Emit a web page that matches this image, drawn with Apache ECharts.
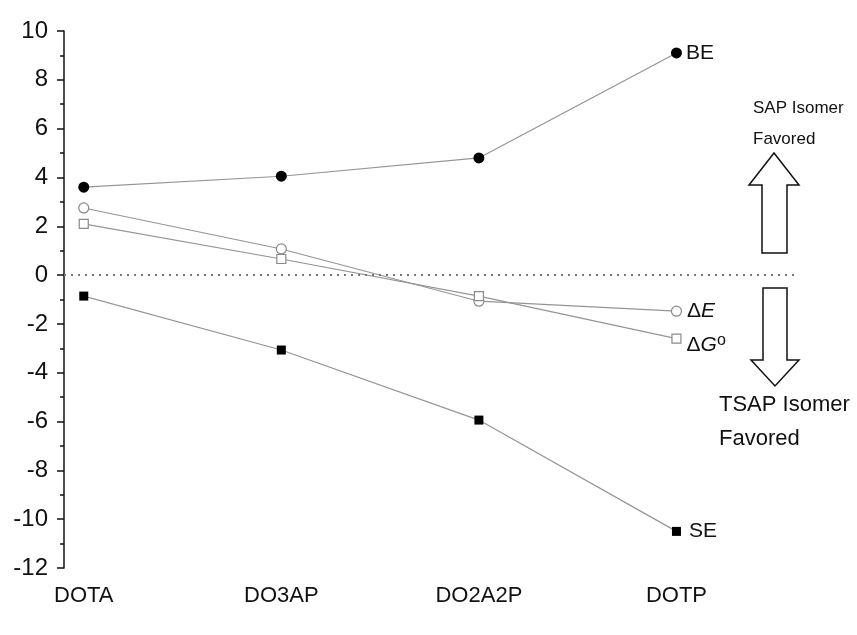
<!DOCTYPE html>
<html>
<head>
<meta charset="utf-8">
<script src="https://cdn.jsdelivr.net/npm/echarts@6/dist/echarts.min.js"></script>
<style>html,body{margin:0;padding:0;background:#fff}#c{width:857px;height:635px}</style>
</head>
<body>
<div id="c"></div>
<script>
var categories = ['DOTA', 'DO3AP', 'DO2A2P', 'DOTP'];
var BE = [3.6, 4.05, 4.8, 9.1];
var dE = [2.75, 1.07, -1.07, -1.48];
var dG = [2.1, 0.66, -0.86, -2.6];
var SE = [-0.86, -3.07, -5.94, -10.5];
var yTicks = {min: -12, max: 10, interval: 2};

var FONT = "'Liberation Sans', Arial, sans-serif";
var chart = echarts.init(document.getElementById('c'), null, {renderer: 'canvas'});

function mk(values, lastLabel) {
  return values.map(function (v, i) {
    var item = {value: [i + 1, v]};
    if (i === values.length - 1 && lastLabel) item.label = lastLabel;
    return item;
  });
}
var lineStyle = {color: '#959595', width: 1.2};

chart.setOption({
  animation: false,
  backgroundColor: '#fff',
  grid: {left: 64, right: 62, top: 31, bottom: 67},
  xAxis: {
    type: 'value', min: 0.9, max: 4.6,
    axisLine: {show: false}, axisTick: {show: false}, splitLine: {show: false},
    axisLabel: {
      customValues: [1, 2, 3, 4],
      formatter: function (v) { return categories[Math.round(v) - 1] || ''; },
      fontSize: 22, color: '#111', fontFamily: FONT, margin: 17
    }
  },
  yAxis: {
    type: 'value', min: yTicks.min, max: yTicks.max, interval: yTicks.interval,
    axisLine: {show: true, lineStyle: {color: '#111', width: 1.5}},
    axisTick: {show: true, length: 7, lineStyle: {color: '#111', width: 1.5}},
    minorTick: {show: true, splitNumber: 2, length: 4, lineStyle: {color: '#111', width: 1.5}},
    splitLine: {show: false},
    axisLabel: {fontSize: 24, color: '#111', fontFamily: FONT, margin: 16}
  },
  series: [
    {
      name: 'BE', type: 'line', data: mk(BE, {show: true, position: 'right', distance: 4, formatter: 'BE', fontSize: 21, color: '#111', fontFamily: FONT}),
      symbol: 'circle', symbolSize: 11, itemStyle: {color: '#000'}, lineStyle: lineStyle,
      markLine: {silent: true, symbol: 'none', label: {show: false},
        lineStyle: {color: '#777', type: [2, 5], width: 2}, data: [{yAxis: 0}]}
    },
    {
      name: 'dE', type: 'line',
      data: mk(dE, {show: true, position: 'right', distance: 5, fontFamily: FONT,
        formatter: '{d|Δ}{e|E}', rich: {d: {fontSize: 21, color: '#111', fontFamily: FONT}, e: {fontSize: 21, fontStyle: 'italic', color: '#111', fontFamily: FONT}}}),
      symbol: 'circle', symbolSize: 10, itemStyle: {color: '#fff', borderColor: '#8a8a8a', borderWidth: 1.2},
      lineStyle: lineStyle
    },
    {
      name: 'dG', type: 'line',
      data: mk(dG, {show: true, position: 'right', distance: 5, offset: [0, 7], fontFamily: FONT,
        formatter: '{d|Δ}{g|G}{o|o}', rich: {d: {fontSize: 21, color: '#111', fontFamily: FONT}, g: {fontSize: 21, fontStyle: 'italic', color: '#111', fontFamily: FONT}, o: {fontSize: 16, color: '#111', fontFamily: FONT, verticalAlign: 'top', padding: [0, 0, 10, 0]}}}),
      symbol: 'rect', symbolSize: 9, itemStyle: {color: '#fff', borderColor: '#8a8a8a', borderWidth: 1.2},
      lineStyle: lineStyle
    },
    {
      name: 'SE', type: 'line', data: mk(SE, {show: true, position: 'right', distance: 8, formatter: 'SE', fontSize: 21, color: '#111', fontFamily: FONT}),
      symbol: 'rect', symbolSize: 9, itemStyle: {color: '#000'}, lineStyle: lineStyle
    }
  ],
  graphic: [
    {type: 'polygon', shape: {points: [[774, 153], [799, 185], [787, 185], [787, 253], [762, 253], [762, 185], [749, 185]]},
      style: {fill: '#fff', stroke: '#111', lineWidth: 1.5}},
    {type: 'polygon', shape: {points: [[763, 288], [787, 288], [787, 360], [799, 360], [775, 386], [751, 360], [763, 360]]},
      style: {fill: '#fff', stroke: '#111', lineWidth: 1.5}},
    {type: 'text', left: 753, top: 100, style: {text: 'SAP Isomer', fontSize: 17, fill: '#111', fontFamily: FONT}},
    {type: 'text', left: 753, top: 131, style: {text: 'Favored', fontSize: 17, fill: '#111', fontFamily: FONT}},
    {type: 'text', left: 719, top: 394, style: {text: 'TSAP Isomer', fontSize: 22, fill: '#111', fontFamily: FONT}},
    {type: 'text', left: 719, top: 428, style: {text: 'Favored', fontSize: 22, fill: '#111', fontFamily: FONT}}
  ]
});
</script>
</body>
</html>
